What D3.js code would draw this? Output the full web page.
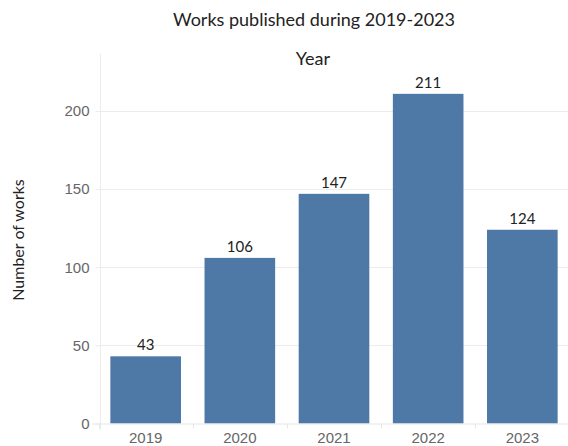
<!DOCTYPE html>
<html>
<head>
<meta charset="utf-8">
<script src="https://cdn.jsdelivr.net/npm/d3@7"></script>
<style>
  body { margin: 0; background: #fff; }
  svg { font-family: Lato, "Open Sans", sans-serif; }
</style>
</head>
<body>
<svg id="chart" width="568" height="446"></svg>
<script>
// data
var years = ["2019", "2020", "2021", "2022", "2023"];
var works = [43, 106, 147, 211, 124];
var yTicks = [0, 50, 100, 150, 200];

var svg = d3.select("#chart");
var plotLeft = 100, plotRight = 568, plotTop = 54, plotBottom = 423.5;

var x = d3.scaleBand()
  .domain(years)
  .range([plotLeft, plotRight])
  .paddingInner(0.25)
  .paddingOuter(0.11);

var y = d3.scaleLinear()
  .domain([0, 236.5])
  .range([plotBottom, plotTop]);

// grid
svg.append("g").selectAll("line")
  .data(yTicks.slice(1))
  .join("line")
    .attr("x1", plotLeft)
    .attr("x2", plotRight)
    .attr("y1", function(d) { return Math.round(y(d)) + 0.5; })
    .attr("y2", function(d) { return Math.round(y(d)) + 0.5; })
    .attr("stroke", "#ececec");

// y axis
var yAxis = svg.append("g")
  .attr("transform", "translate(" + (plotLeft + 0.5) + ",0)")
  .call(d3.axisLeft(y).tickValues(yTicks).tickSize(5).tickPadding(6));
yAxis.select(".domain").attr("stroke", "#ececec").attr("d", "M0," + plotTop + "V" + (plotBottom + 6));
yAxis.selectAll(".tick line").attr("stroke", "#ececec");
yAxis.selectAll(".tick text")
  .attr("fill", "#666")
  .style("font-size", "15px");

// bars
svg.append("g").selectAll("rect")
  .data(works)
  .join("rect")
    .attr("x", function(d, i) { return x(years[i]); })
    .attr("y", function(d) { return y(d); })
    .attr("width", x.bandwidth())
    .attr("height", function(d) { return y(0) - y(d); })
    .attr("fill", "#4e79a7");

// x axis
var xAxis = svg.append("g")
  .attr("transform", "translate(0," + (plotBottom + 0.5) + ")")
  .call(d3.axisBottom(x).tickSize(0).tickPadding(8));
xAxis.select(".domain").attr("stroke", "#e6e6e6").attr("d", "M" + (plotLeft - 8) + ",0H" + plotRight);
xAxis.selectAll(".tick text")
  .attr("fill", "#666")
  .style("font-size", "15px");

// small ticks between bands
var step = x.step();
svg.append("g").selectAll("line")
  .data(years)
  .join("line")
    .attr("x1", function(d) { return Math.round(x(d) - step * 0.125) + 0.5; })
    .attr("x2", function(d) { return Math.round(x(d) - step * 0.125) + 0.5; })
    .attr("y1", plotBottom)
    .attr("y2", plotBottom + 5)
    .attr("stroke", "#e6e6e6");

// value labels
svg.append("g").selectAll("text")
  .data(works)
  .join("text")
    .attr("x", function(d, i) { return x(years[i]) + x.bandwidth() / 2; })
    .attr("y", function(d) { return y(d) - 6; })
    .attr("text-anchor", "middle")
    .attr("fill", "#222")
    .style("font-size", "15px")
    .text(function(d) { return d; });

// titles
svg.append("text")
  .attr("x", 314)
  .attr("y", 26)
  .attr("text-anchor", "middle")
  .attr("fill", "#222")
  .style("font-size", "18px")
  .text("Works published during 2019-2023");

svg.append("text")
  .attr("x", 313)
  .attr("y", 65)
  .attr("text-anchor", "middle")
  .attr("fill", "#222")
  .style("font-size", "18px")
  .text("Year");

svg.append("text")
  .attr("transform", "translate(24,240) rotate(-90)")
  .attr("text-anchor", "middle")
  .attr("fill", "#222")
  .style("font-size", "16px")
  .text("Number of works");
</script>
</body>
</html>
